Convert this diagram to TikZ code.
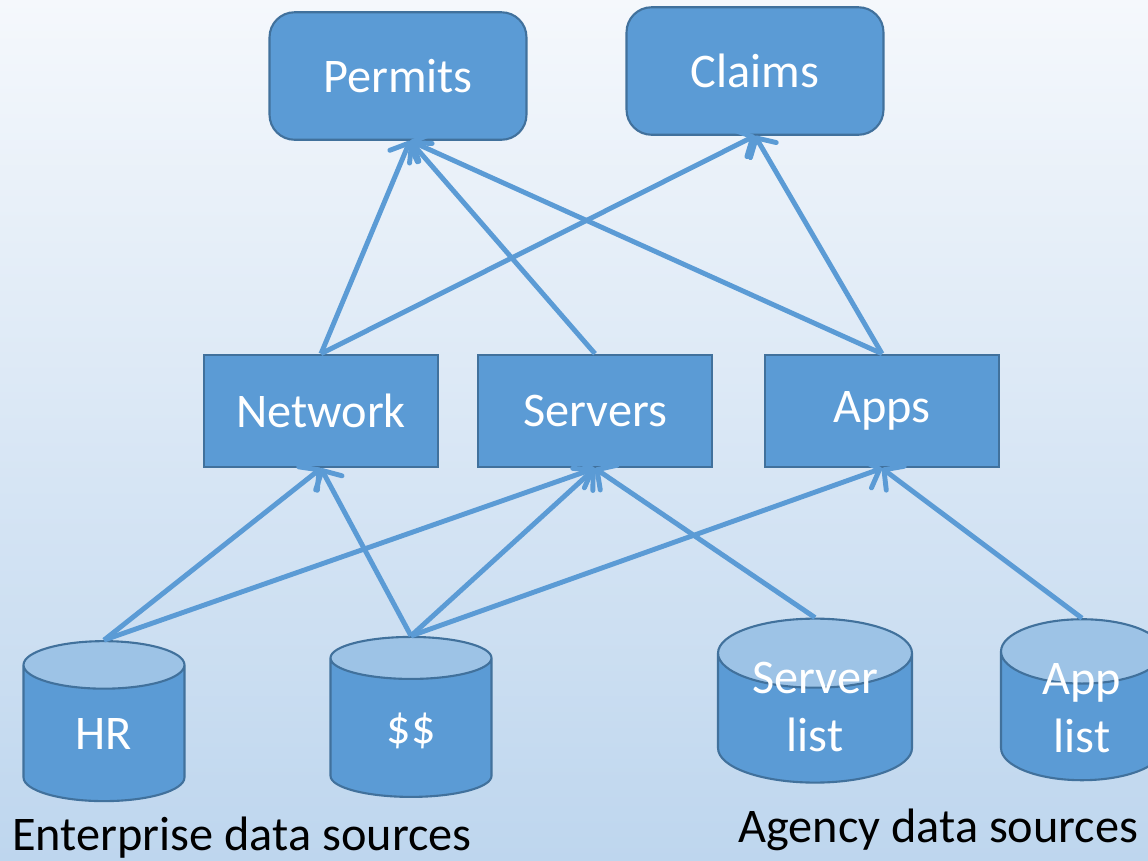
\documentclass[tikz,border=0pt]{standalone}
\usepackage{fontspec}
\setmainfont{Carlito}
\usetikzlibrary{shapes.geometric,arrows.meta}
\definecolor{boxblue}{HTML}{5B9BD5}
\definecolor{edgeblue}{HTML}{41719C}
\definecolor{capblue}{HTML}{9DC3E6}
\tikzset{
>={Straight Barb[length=8pt,width=17pt,round]},
  topbox/.style={
    rectangle,
    rounded corners=0.5cm,
    fill=boxblue,
    draw=edgeblue, line width=1.2pt,
    text=white,
    font=\fontsize{27.5}{33}\selectfont,
    minimum width=5.14cm,
    minimum height=2.55cm},
  midbox/.style={
    rectangle,
    fill=boxblue,
    draw=edgeblue, line width=1.2pt,
    text=white,
    font=\fontsize{27.5}{33}\selectfont,
    minimum width=4.68cm,
    minimum height=2.25cm},
  dbsource/.style={
    cylinder,
    shape border rotate=90,
    aspect=0.75,
    inner sep=2pt,
    cylinder uses custom fill,
    cylinder body fill=boxblue,
    cylinder end fill=capblue,
    draw=edgeblue, line width=1.2pt,
    text=white, align=center,
    font=\fontsize{27.5}{33}\selectfont},
  twoline/.style={text height=32pt, text depth=-4pt},
  feed/.style={->, draw=boxblue, line width=2.8pt},
}
\begin{document}
\begin{tikzpicture}[
    x=0.02cm, y=-0.02cm,
    caption/.style={font=\fontsize{27.5}{33}\selectfont, anchor=base west, inner sep=0pt}
    ]

    %backdrop
    \useasboundingbox (0,0) rectangle (1148,860);
    \clip (0,0) rectangle (1148,860);
    \shade[top color={rgb,255:red,245;green,248;blue,252},
           bottom color={rgb,255:red,190;green,214;blue,238}]
        (0,0) rectangle (1148,860);

    %requests
    \node[topbox] (permits) at (398,76) {Permits};
    \node[topbox] (claims) at (755,71) {Claims};

    %inventories
    \node[midbox] (network) at (321,411) {Network};
    \node[midbox] (servers) at (595,411) {Servers};
    \node[midbox] (apps) at (882,411) {Apps};

    %sources
    \node[dbsource, minimum width=3.22cm, minimum height=3.2cm, text depth=4pt] (hr) at (104,737) {HR};
    \node[dbsource, minimum width=3.22cm, minimum height=3.2cm] (money) at (411,731) {\$\$};
    \node[dbsource, twoline, minimum width=3.88cm, minimum height=3.28cm, aspect=0.52] (srvlist) at (815,723) {Server\\list};
    \node[dbsource, twoline, text height=36.1pt, text depth=-8.1pt, minimum width=3.24cm, minimum height=3.22cm] (applist) at (1082,721) {App\\list};

    \node[caption] (enterprise) at (12,850) {Enterprise data sources};
    \node[caption] (agency) at (738,842) {Agency data sources};

    %feeds
    \draw[feed] (network.north) -- ([xshift=0.24cm]permits.south);
    \draw[feed] (servers.north) -- ([xshift=0.24cm]permits.south);
    \draw[feed] (apps.north) -- ([xshift=0.24cm]permits.south);
    \draw[feed] (network.north) -- (claims.south);
    \draw[feed] (apps.north) -- (claims.south);

    \draw[feed] (hr.north) -- (network.south);
    \draw[feed] (hr.north) -- (servers.south);
    \draw[feed] (money.north) -- (network.south);
    \draw[feed] (money.north) -- (servers.south);
    \draw[feed] (money.north) -- (apps.south);
    \draw[feed] (srvlist.north) -- (servers.south);
    \draw[feed] (applist.north) -- (apps.south);

\end{tikzpicture}
\end{document}
